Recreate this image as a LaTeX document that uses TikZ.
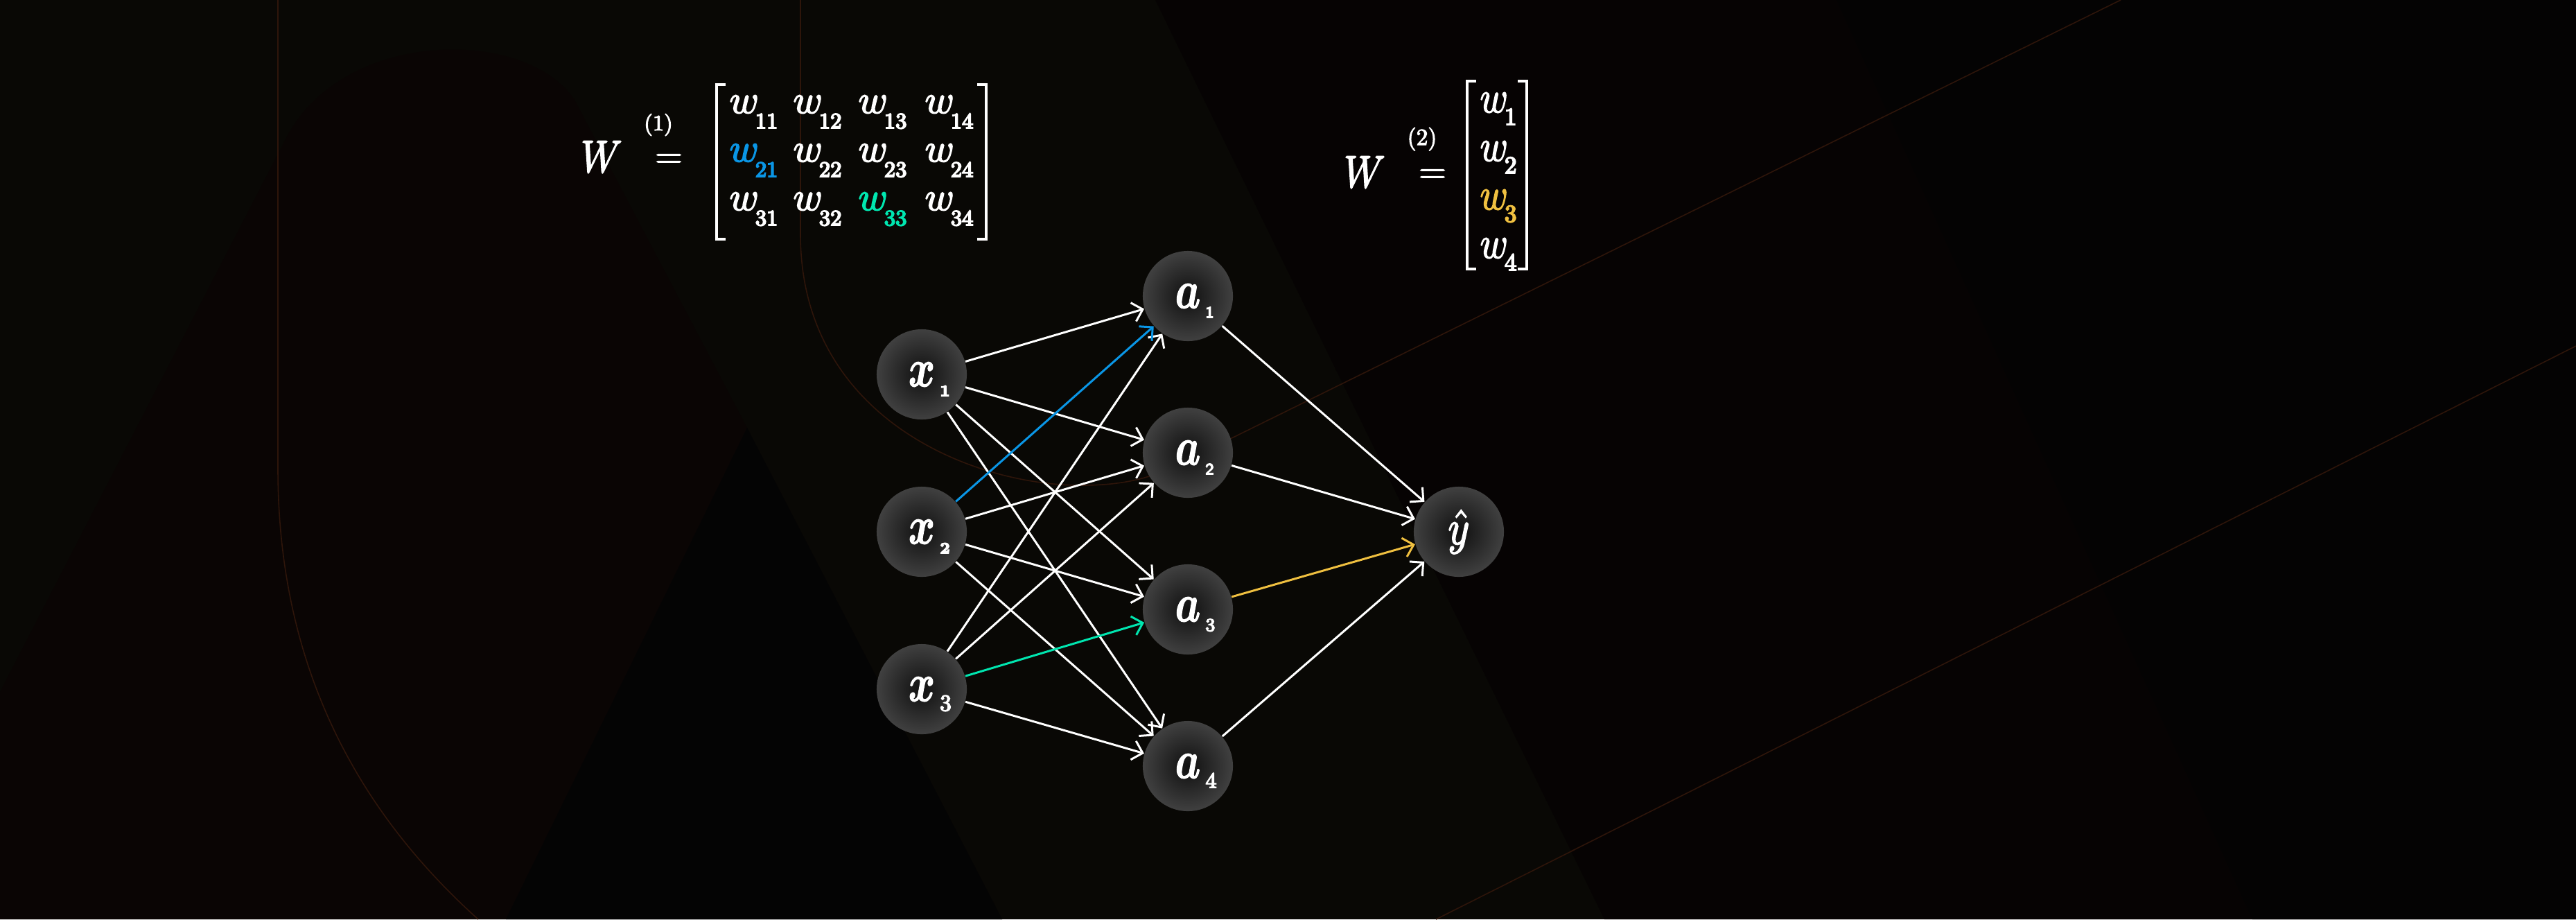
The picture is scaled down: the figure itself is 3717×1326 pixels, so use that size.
\RequirePackage{fix-cm}
\documentclass[tikz,border=0pt]{standalone}
\usepackage{amsmath}
\usepackage{bm}
\usepackage{graphicx}
\usetikzlibrary{arrows.meta}

\definecolor{bgbase}{HTML}{090805}
\definecolor{bghill}{HTML}{0A0504}
\definecolor{bgblack}{HTML}{040404}
\definecolor{bgright}{HTML}{060303}
\definecolor{bgfar}{HTML}{040303}
\definecolor{bgline}{HTML}{2E150A}
\definecolor{ballin}{HTML}{101010}
\definecolor{ballmid}{HTML}{404040}
\definecolor{ballout}{HTML}{808080}
\definecolor{cblue}{HTML}{0A96E6}
\definecolor{cteal}{HTML}{00E6B0}
\definecolor{cyellow}{HTML}{F0C040}

\pgfdeclareradialshading{ballshade}{\pgfpoint{0bp}{0bp}}{color(0bp)=(ballin); color(25bp)=(ballmid); color(50bp)=(ballout)}

% heavier text: fill + stroke rendering mode
\newcommand{\hv}[2]{\special{pdf:literal direct 2 Tr #1 w}#2\special{pdf:literal direct 0 Tr}}
% ball label: letter (squeezed) + subscript hung to the lower right
\newcommand{\blab}[3]{\scalebox{#3}[1]{$#1$}\rlap{\kern0.07cm\raisebox{-0.14cm}[0pt][0pt]{#2}}}
\newcommand{\wA}[1]{\fontsize{16.5}{18}\selectfont\hv{0.5}{$w$\kern-0.05cm\raisebox{-0.22cm}[0pt][0pt]{\fontsize{9}{10}\selectfont #1}}}
\newcommand{\wB}[1]{\fontsize{18.5}{20}\selectfont\hv{0.5}{\scalebox{0.85}[1]{$w$}\kern-0.05cm\raisebox{-0.18cm}[0pt][0pt]{\fontsize{10}{11}\selectfont #1}}}

\tikzset{
  ball/.style={circle, minimum size=1.3cm, inner sep=0pt, shade, shading=ballshade, text=white},
  edge/.style={draw=white, line width=0.85pt, -{Straight Barb[length=1.4mm,width=2.8mm]}},
  bgl/.style={draw=bgline, line width=0.45pt},
  brk/.style={draw=white, line width=1.3pt},
  lbl/.style={inner sep=0pt, text=white},
}

\begin{document}
\begin{tikzpicture}[x=0.01cm,y=-0.01cm]
\useasboundingbox (0,0) rectangle (3717,1326);
% background
\fill[bgbase] (0,0) rectangle (3717,1326);
\fill[bgright] (1667,0) -- (3717,0) -- (3717,1326) -- (2315,1326) -- cycle;
\fill[bgfar] (2650,0) -- (3717,0) -- (3717,1326) -- (3250,1326) -- cycle;
\fill[bghill] (0,998) -- (415,195) .. controls (500,40) and (760,40) .. (829,144) -- (1078,617) -- (1446,1326) -- (0,1326) -- cycle;
\fill[bgblack] (1078,617) -- (730,1326) -- (1446,1326) -- cycle;
\draw[bgl] (401,0) -- (401,676) .. controls (401,1000) and (550,1200) .. (690,1326);
\draw[bgl] (1155,0) -- (1155,338) .. controls (1155,600) and (1400,700) .. (1560,700) .. controls (1620,700) and (1660,690) .. (1700,670) -- (3060,0);
\draw[bgl] (3717,499) -- (2072,1326);

% W(1)
\node[lbl, anchor=base west] (WA) at (838,248) {\fontsize{18.5}{20}\selectfont\hv{0.6}{\scalebox{0.85}[1]{$W$}}};
\node[lbl, anchor=base] (WAsup) at (950,188) {\fontsize{9}{10}\selectfont\hv{0.3}{(1)}};
\node[lbl] (WAeq) at (965,232) {\fontsize{15}{16}\selectfont\hv{0.3}{$=$}};
\draw[brk] (1047,122) -- (1034,122) -- (1034,345) -- (1047,345);
\draw[brk] (1410,122) -- (1423,122) -- (1423,345) -- (1410,345);
\node[lbl, anchor=base west] (w11) at (1052,163) {\wA{11}};
\node[lbl, anchor=base west] (w12) at (1144,163) {\wA{12}};
\node[lbl, anchor=base west] (w13) at (1238,163) {\wA{13}};
\node[lbl, anchor=base west] (w14) at (1334,163) {\wA{14}};
\node[lbl, anchor=base west, text=cblue] (w21) at (1052,233) {\wA{21}};
\node[lbl, anchor=base west] (w22) at (1144,233) {\wA{22}};
\node[lbl, anchor=base west] (w23) at (1238,233) {\wA{23}};
\node[lbl, anchor=base west] (w24) at (1334,233) {\wA{24}};
\node[lbl, anchor=base west] (w31) at (1052,303) {\wA{31}};
\node[lbl, anchor=base west] (w32) at (1144,303) {\wA{32}};
\node[lbl, anchor=base west, text=cteal] (w33) at (1238,303) {\wA{33}};
\node[lbl, anchor=base west] (w34) at (1334,303) {\wA{34}};

% W(2)
\node[lbl, anchor=base west] (WB) at (1939,270) {\fontsize{18.5}{20}\selectfont\hv{0.6}{\scalebox{0.85}[1]{$W$}}};
\node[lbl, anchor=base] (WBsup) at (2052,209) {\fontsize{9.5}{10}\selectfont\hv{0.3}{(2)}};
\node[lbl] (WBeq) at (2067,254) {\fontsize{15}{16}\selectfont\hv{0.3}{$=$}};
\draw[brk] (2130,117) -- (2117,117) -- (2117,388) -- (2130,388);
\draw[brk] (2190,117) -- (2203,117) -- (2203,388) -- (2190,388);
\node[lbl, anchor=base west] (v1) at (2135,162) {\wB{1}};
\node[lbl, anchor=base west] (v2) at (2135,232) {\wB{2}};
\node[lbl, anchor=base west, text=cyellow] (v3) at (2135,302) {\wB{3}};
\node[lbl, anchor=base west] (v4) at (2135,372) {\wB{4}};

% balls
\node[ball] (x1) at (1330,540) {\fontsize{22}{24}\selectfont\hv{0.4}{\blab{\bm{x}}{\fontsize{6.5}{7}\selectfont\bfseries 1}{0.75}}};
\node[ball] (x2) at (1330,767) {\fontsize{22}{24}\selectfont\hv{0.4}{\blab{\bm{x}}{\fontsize{6.5}{7}\selectfont\bfseries 2}{0.75}}};
\node[ball] (x3) at (1330,994) {\fontsize{22}{24}\selectfont\hv{0.4}{\blab{\bm{x}}{\fontsize{9.5}{10}\selectfont 3}{0.75}}};
\node[ball] (a1) at (1714,427) {\fontsize{22}{24}\selectfont\hv{0.4}{\blab{\bm{a}}{\fontsize{6.5}{7}\selectfont\sffamily 1}{0.75}}};
\node[ball] (a2) at (1714,653) {\fontsize{22}{24}\selectfont\hv{0.4}{\blab{\bm{a}}{\fontsize{6.5}{7}\selectfont\sffamily 2}{0.75}}};
\node[ball] (a3) at (1714,879) {\fontsize{22}{24}\selectfont\hv{0.4}{\blab{\bm{a}}{\fontsize{7.5}{8}\selectfont 3}{0.75}}};
\node[ball] (a4) at (1714,1105) {\fontsize{22}{24}\selectfont\hv{0.4}{\blab{\bm{a}}{\fontsize{9}{10}\selectfont 4}{0.75}}};
\node[ball] (yh) at (2105,767) {\fontsize{20}{22}\selectfont\hv{0.6}{\scalebox{0.85}[1]{$\hat{y}$}}};

% connections
\foreach \s/\t in {x1/a1,x1/a2,x1/a3,x1/a4,x2/a2,x2/a3,x2/a4,x3/a1,x3/a2,x3/a4,a1/yh,a2/yh,a4/yh}
  \draw[edge] (\s) -- (\t);
\draw[edge, draw=cblue] (x2) -- (a1);
\draw[edge, draw=cteal] (x3) -- (a3);
\draw[edge, draw=cyellow] (a3) -- (yh);
\end{tikzpicture}
\end{document}
